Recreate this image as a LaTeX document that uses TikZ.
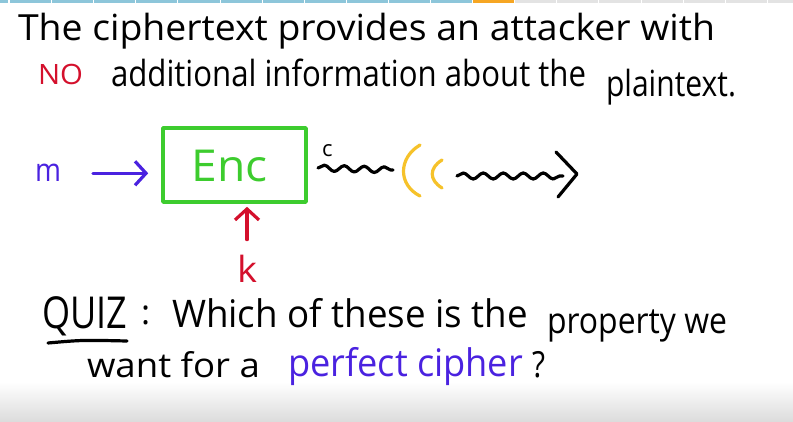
\documentclass[tikz,border=0pt]{standalone}
\usepackage{fontspec}
\setmainfont{Open Sans}
\usetikzlibrary{arrows.meta,decorations.pathmorphing}
\definecolor{inkblue}{HTML}{4A22E0}
\definecolor{inkred}{HTML}{D4102C}
\definecolor{inkgreen}{HTML}{3DCC2E}
\definecolor{inkyellow}{HTML}{F6C22A}
\definecolor{barblue}{HTML}{8DC6DA}
\definecolor{barorange}{HTML}{F6A623}
\definecolor{bargrey}{HTML}{E3E3E3}
\newcommand{\hw}[2]{\resizebox{#1pt}{\height}{#2}}
\newcommand{\fs}[1]{\fontsize{#1}{#1}\selectfont}
\begin{document}
\begin{tikzpicture}[x=1pt,y=-1pt,
  txt/.style={anchor=base west, inner sep=0pt, outer sep=0pt},
  ink/.style={line width=3.2pt, line cap=round, line join=round},
  hand/.style={ink, -{Straight Barb[length=11pt,width=24pt,line width=3.2pt]}},
  wave/.style={ink, black, decorate, decoration={snake, amplitude=3pt, segment length=20pt}},
]
\useasboundingbox (0,0) rectangle (793,422);
\fill[white] (0,0) rectangle (793,422);
\shade[top color=white,bottom color=black!14] (0,382) rectangle (793,422);
% progress bar
\fill[barblue] (0,0) rectangle (8,3);
\foreach \j in {0,...,10} \fill[barblue] ({10+42.1*\j},0) rectangle ({9+42.1*(\j+1)},3);
\fill[barorange] ({10+42.1*11},0) rectangle ({9+42.1*12},3);
\foreach \j in {12,...,18} \fill[bargrey] ({10+42.1*\j},0) rectangle ({min(9+42.1*(\j+1),793)},3);

% heading
\node[txt] (l1) at (18,41) {\fs{36}\hw{697}{The ciphertext provides an attacker with}};
\node[txt,text=inkred] (no) at (38,85) {\fs{28}\hw{45}{NO}};
\node[txt] (l2) at (111,87) {\fs{36}\hw{475}{additional information about the}};
\node[txt] (l2b) at (606,97) {\fs{36}\hw{130}{plaintext.}};

% diagram
\node[txt,text=inkblue] (m) at (35,182) {\fs{32}\hw{26}{m}};
\node[draw=inkgreen, ink, line width=3.6pt, minimum width=143pt, minimum height=74pt, inner sep=0pt] (enc) at (234.5,165) {};
\node[text=inkgreen, inner sep=0pt] (enctxt) at (229.5,166) {\fs{44}\hw{76}{Enc}};
\draw[hand, inkblue] ([xshift=32pt]m.east) -- ([xshift=-13pt]enc.west |- m.east);
\node[txt,text=inkred] (k) at (237,283) {\fs{36}\hw{20}{k}};
\draw[hand, inkred] ([yshift=16pt]k.north) -- ([yshift=-3pt]enc.south -| k.north);

\node[txt] (c) at (322,157) {\fs{22}c};
\coordinate (w1s) at (318,168);
\coordinate (w1e) at (393,170);
\draw[wave] (w1s) -- (w1e);
\draw[ink, inkyellow] (420,145) .. controls (398,158) and (398,185) .. (420,196);
\draw[ink, inkyellow] (442,160) .. controls (429,168) and (429,180) .. (442,188);
\coordinate (w2s) at (457,176);
\coordinate (w2e) at (563,176);
\draw[wave] (w2s) -- (w2e);
\coordinate (gt1) at (556,152);
\coordinate (gt2) at (577,174);
\coordinate (gt3) at (558,197);
\draw[ink] (gt1) -- (gt2) -- (gt3);

% quiz
\node[txt] (quiz) at (42,328) {\fs{44}\hw{85}{QUIZ}};
\draw[ink] ([xshift=6pt,yshift=-15pt]quiz.base west) .. controls ([xshift=40pt,yshift=-12pt]quiz.base west) .. ([yshift=-13pt]quiz.base east);
\node[txt] (colon) at (141,324) {\fs{34}:};
\node[txt] (q1) at (172,327) {\fs{38}\hw{356}{Which of these is the}};
\node[txt] (q2) at (547,334) {\fs{36}\hw{180}{property we}};
\node[txt] (q3) at (87,377) {\fs{34}\hw{173}{want for a}};
\node[txt,text=inkblue] (q4) at (288,376) {\fs{38}\hw{235}{perfect cipher}};
\node[txt] (qm) at (532,377) {\fs{36}\hw{13}{?}};
\end{tikzpicture}
\end{document}
